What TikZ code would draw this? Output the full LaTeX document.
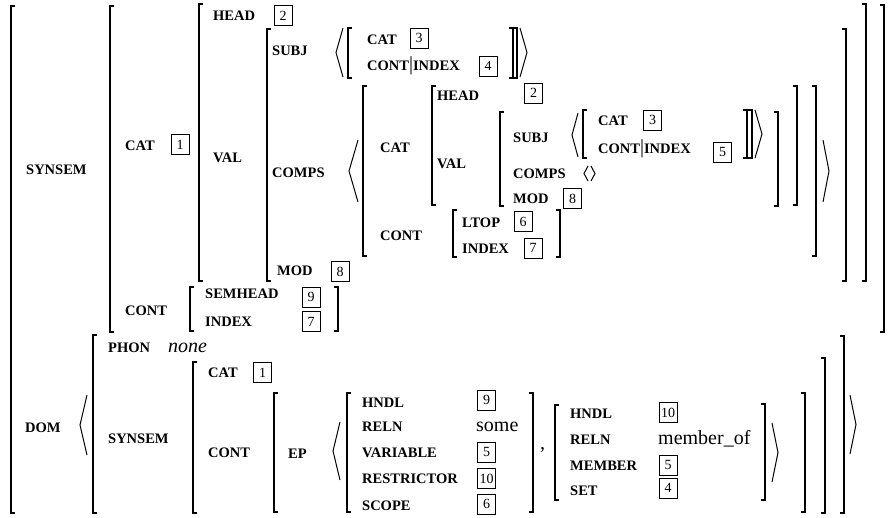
\documentclass[tikz,border=0pt]{standalone}
\usepackage{fontspec}
\setmainfont{Liberation Serif}
\tikzset{
 att/.style={anchor=base west, inner sep=0pt, font=\fontsize{14.5}{16}\selectfont\bfseries},
 avmval/.style={anchor=base west, inner sep=0pt, font=\fontsize{20}{22}\selectfont},
 tagbox/.style={draw, line width=0.7pt, minimum width=18pt, minimum height=20pt, inner sep=1pt, font=\fontsize{14}{14}\selectfont},
 brk/.style={line width=1.2pt},
 ang/.style={line width=1pt},
}
\newcommand\avmAtt[4]{\node[att] (#1) at (#2,#3+5) {#4};}
\newcommand\avmTag[4]{\node[tagbox] (#1) at (#2,#3) {#4};}
\newcommand\avmLB[3]{\draw[brk] (#1+4,#2) -- (#1,#2) -- (#1,#3) -- (#1+4,#3);}
\newcommand\avmRB[3]{\draw[brk] (#1-4,#2) -- (#1,#2) -- (#1,#3) -- (#1-4,#3);}
\newcommand\avmLA[4]{\draw[ang] (#2,#3) -- (#1,#3/2+#4/2) -- (#2,#4);}
\newcommand\bigbar{{\fontsize{20}{20}\selectfont\mdseries|}}
\begin{document}
\begin{tikzpicture}[x=1pt,y=-1pt]
\useasboundingbox (0,0) rectangle (896,517);
% ---------- outer ----------
\avmLB{11}{6}{513}
\avmAtt{synsem}{26}{169}{SYNSEM}
\avmLB{110}{6}{332}
\avmRB{884}{5}{332}
% CAT [1]
\avmAtt{cat}{125}{145}{CAT}
\avmTag{t1}{180}{144.5}{1}
\avmLB{199}{4}{281}
\avmRB{866}{4}{281}
\avmAtt{head}{213}{15}{HEAD}
\avmTag{t2}{283}{15.5}{2}
\avmAtt{val}{213}{157}{VAL}
\avmLB{267}{29}{281}
\avmRB{846}{29}{281}
% SUBJ
\avmAtt{subj}{272}{50}{SUBJ}
\avmLA{336}{343}{28}{77}
\avmLB{348}{28}{78}
\avmAtt{scat}{367}{39}{CAT}
\avmTag{t3}{419}{38}{3}
\avmAtt{scont}{367}{65}{CONT\bigbar INDEX}
\avmTag{t4}{488}{66}{4}
\avmRB{513}{28}{78}
\avmRB{517}{28}{78}
\avmLA{527}{520}{28}{77}
% COMPS
\avmAtt{comps}{272}{172}{COMPS}
\avmLA{349}{358}{140}{202}
\avmLB{363}{86}{256}
\avmRB{816}{86}{256}
\avmLA{829}{823}{140}{202}
\avmAtt{ccat}{380}{147}{CAT}
\avmLB{432}{86}{205}
\avmRB{797}{86}{205}
\avmAtt{chead}{437}{95}{HEAD}
\avmTag{t2b}{533.5}{93}{2}
\avmAtt{cval}{437}{163}{VAL}
\avmLB{500}{112}{206}
\avmRB{778}{112}{206}
\avmAtt{csubj}{513}{137}{SUBJ}
\avmLA{572}{578}{113}{157}
\avmLB{583}{110}{158}
\avmAtt{cscat}{598}{120}{CAT}
\avmTag{t3b}{652.5}{120}{3}
\avmAtt{cscont}{598}{148}{CONT\bigbar INDEX}
\avmTag{t5}{722.5}{152}{5}
\avmRB{747}{110}{158}
\avmRB{752}{110}{158}
\avmLA{762}{755}{110}{158}
\avmAtt{ccomps}{513}{173}{COMPS}
\avmLA{584}{588}{166}{181}
\avmLA{595}{591}{166}{181}
\avmAtt{cmod}{513}{198}{MOD}
\avmTag{t8}{572.5}{198.5}{8}
\avmAtt{ccont}{380}{235}{CONT}
\avmLB{453}{210}{257}
\avmRB{560}{210}{257}
\avmAtt{ltop}{462}{222}{LTOP}
\avmTag{t6}{523}{221.5}{6}
\avmAtt{cindex}{462}{248}{INDEX}
\avmTag{t7}{533}{248}{7}
% MOD
\avmAtt{mod}{277}{270}{MOD}
\avmTag{t8b}{340}{271.5}{8}
% CONT of SYNSEM
\avmAtt{cont}{125}{310}{CONT}
\avmLB{190}{287}{331}
\avmRB{338}{287}{331}
\avmAtt{semhead}{205}{293}{SEMHEAD}
\avmTag{t9}{311}{297}{9}
\avmAtt{index}{205}{321}{INDEX}
\avmTag{t7b}{311}{321.5}{7}
% ---------- DOM ----------
\avmAtt{dom}{25}{427}{DOM}
\avmLA{80}{87}{395}{455}
\avmLB{93}{335}{513}
\avmRB{844}{336}{513}
\avmLA{856}{850}{395}{454}
\avmAtt{phon}{108}{347}{PHON}
\node[avmval, font=\fontsize{20}{22}\selectfont\itshape] (none) at (168,352) {none};
\avmAtt{dsynsem}{108}{438}{SYNSEM}
\avmLB{193}{362}{513}
\avmRB{825}{358}{513}
\avmAtt{dcat}{208}{372}{CAT}
\avmTag{t1b}{262.5}{372.5}{1}
\avmAtt{dcont}{208}{452}{CONT}
\avmLB{274}{393}{512}
\avmRB{805}{393}{512}
\avmAtt{ep}{288}{453}{EP}
\avmLA{333}{340}{422}{480}
\avmLB{347}{393}{512}
\avmRB{533}{393}{512}
\avmAtt{hndl}{362}{402}{HNDL}
\avmTag{t9b}{486.5}{400}{9}
\avmAtt{reln}{362}{426}{RELN}
\node[avmval] (some) at (476,431) {some};
\avmAtt{variable}{362}{452}{VARIABLE}
\avmTag{t5b}{486.5}{452}{5}
\avmAtt{restr}{362}{478}{RESTRICTOR}
\avmTag{t10}{486.5}{478.5}{10}
\avmAtt{scope}{362}{505}{SCOPE}
\avmTag{t6b}{486.5}{504}{6}
\node[avmval] (comma) at (540,449) {,};
\avmLB{555}{405}{500}
\avmRB{765}{404}{500}
\avmLA{778}{772}{423}{482}
\avmAtt{hndlb}{570}{413}{HNDL}
\avmTag{t10b}{668}{412.5}{10}
\avmAtt{relnb}{570}{439}{RELN}
\node[avmval] (memberof) at (658,444) {member\_of};
\avmAtt{member}{570}{465}{MEMBER}
\avmTag{t5c}{668}{465}{5}
\avmAtt{set}{570}{490}{SET}
\avmTag{t4b}{668}{488}{4}
\end{tikzpicture}
\end{document}
